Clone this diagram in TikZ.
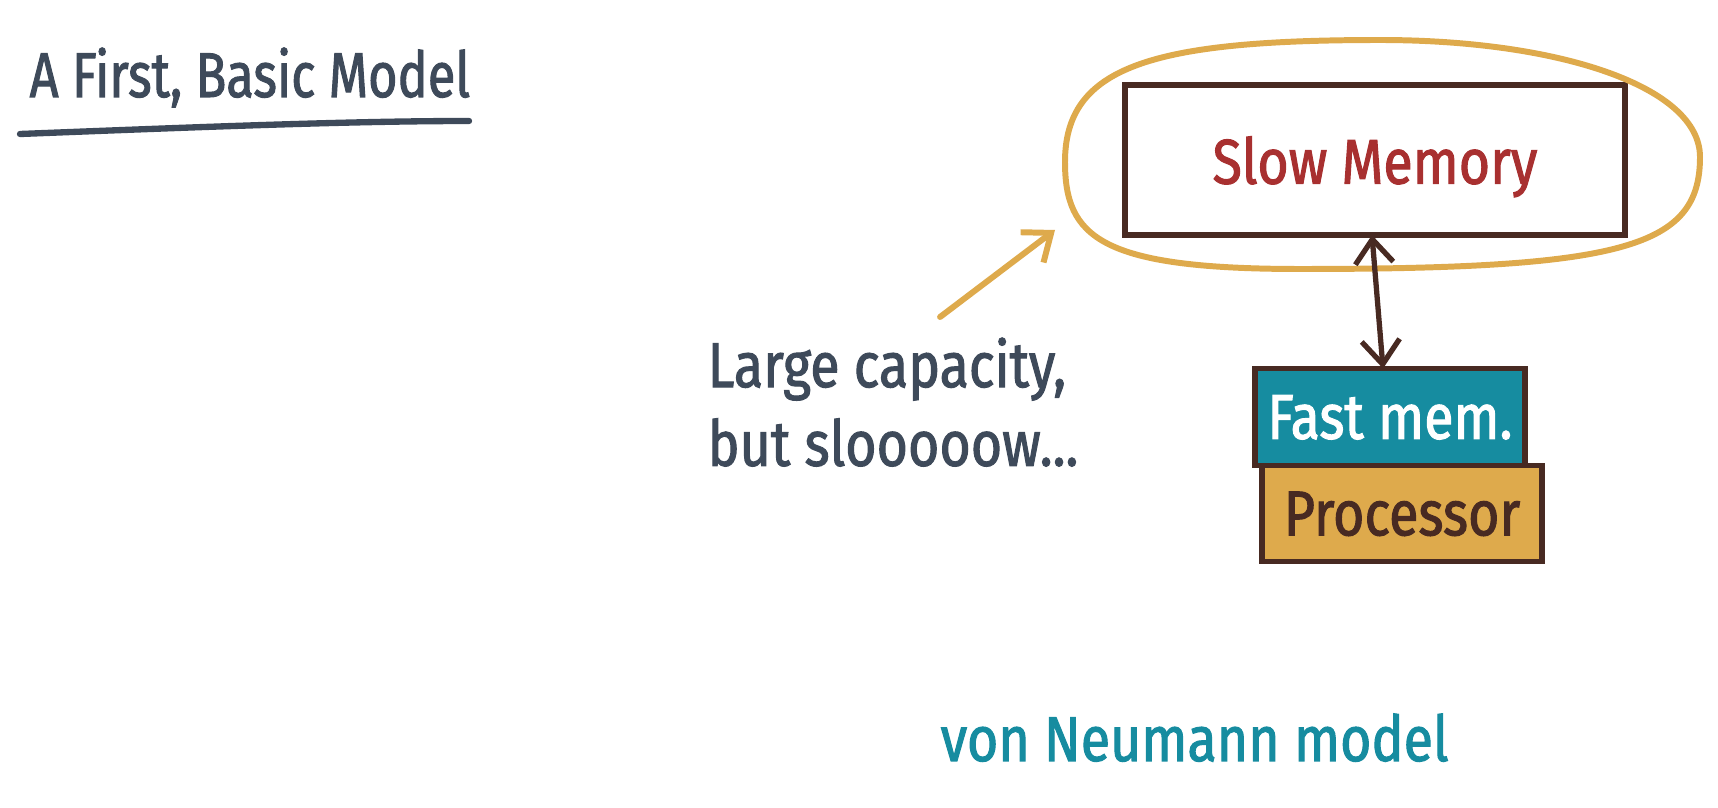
\documentclass[tikz,border=0pt]{standalone}
\usepackage{fontspec}
\setmainfont{Fira Sans}[FakeStretch=0.85,FakeBold=1.6]
\usetikzlibrary{arrows.meta, positioning}
\definecolor{myslate}{RGB}{62, 74, 90}
\definecolor{myred}{RGB}{168, 48, 48}
\definecolor{mybrown}{RGB}{72, 42, 34}
\definecolor{mygold}{RGB}{222, 170, 76}
\definecolor{myteal}{RGB}{22, 140, 160}

\begin{document}
\begin{tikzpicture}[x=0.1mm,y=0.1mm,
    hand/.style={font=\fontsize{18}{22.4}\selectfont,inner sep=0pt},
    membox/.style={draw=mybrown,line width=1.5pt,outer sep=0pt,inner sep=0pt,text depth=0pt},
    barb/.tip={Straight Barb[length=2.4mm,width=3.8mm]}]
        \useasboundingbox (0,0) rectangle (1718,807);
        % title
        \node[hand,text=myslate,anchor=base west,xscale=0.94,transform shape] (title) at (29,710){A First, Basic Model};
        \draw[myslate,line width=1.8pt,line cap=round](20,673) .. controls (200,680) and (350,686) .. (469,686);
        % slow memory with its outline
        \node[membox,hand,text=myred,minimum width=50mm,minimum height=15mm] (slow) at (1375,647){Slow Memory};
        \draw[mygold,line width=1.7pt](1380,767) .. controls (1150,767) and (1065,740) .. (1065,645)
            .. controls (1065,570) and (1100,538) .. (1300,538)
            .. controls (1625,538) and (1700,560) .. (1700,650)
            .. controls (1700,720) and (1560,767) .. cycle;
        \coordinate (ring) at (1055,577);
        % fast memory on top of the processor
        \node[membox,hand,fill=myteal,text=white,minimum width=27mm,minimum height=9.7mm] (fast) at (1390,390){Fast mem.};
        \node[membox,hand,fill=mygold,text=mybrown,minimum width=28mm,minimum height=9.6mm,below=0pt of fast,xshift=1.2mm] (proc){Processor};
        \draw[mybrown,line width=1.5pt,line cap=round,barb-barb]([xshift=-0.3mm]slow.south)--([xshift=-0.7mm]fast.north);
        % note
        \node[hand,text=myslate,align=left,anchor=north west] (note) at (707,470){Large capacity,\\but slooooow...};
        \draw[mygold,line width=1.7pt,line cap=round,-barb]([shift={(4.7mm,2mm)}]note.north)--(ring);
        \node[hand,text=myteal,anchor=base west] (model) at (940,46){von Neumann model};
      \end{tikzpicture}
\end{document}
